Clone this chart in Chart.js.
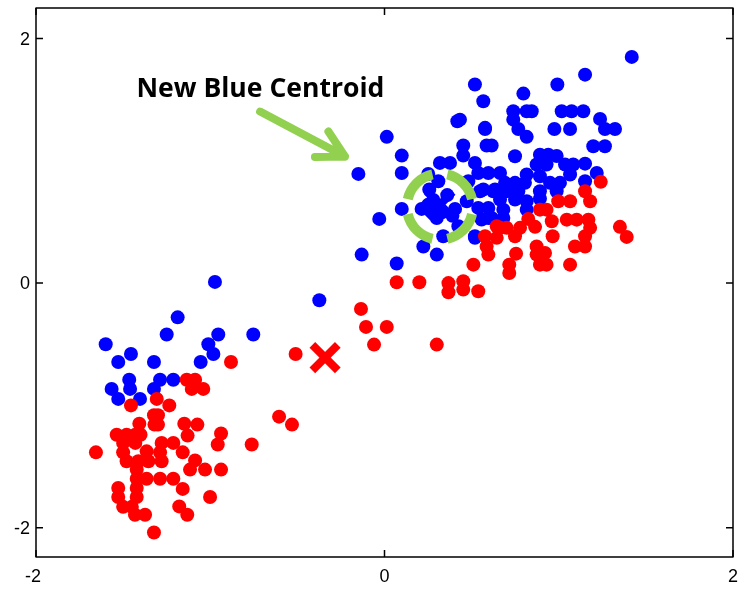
<!DOCTYPE html>
<html>
<head>
<meta charset="utf-8">
<script src="https://cdn.jsdelivr.net/npm/chart.js@4.4.0/dist/chart.umd.min.js"></script>
<style>
  body { margin: 0; background: #fff; }
  #wrap { width: 754px; height: 589px; }
</style>
</head>
<body>
<div id="wrap"><canvas id="chart-scatter" width="754" height="589"></canvas></div>
<script>
// Puntos azules (x, y)
const bluePoints = [
    [-0.973, 0.01], [-1.187, -0.28], [-1.25, -0.42], [-0.954, -0.42], [-0.753, -0.42],
    [-1.60, -0.50], [-1.455, -0.58], [-1.011, -0.50], [-0.982, -0.58], [-1.528, -0.645],
    [-1.323, -0.645], [-1.055, -0.645], [-1.465, -0.79], [-1.288, -0.79], [-1.212, -0.79],
    [-1.566, -0.865], [-1.46, -0.865], [-1.323, -0.865], [-1.528, -0.947], [-1.403, -0.947],
    [-0.374, -0.14],
    [0.418, 1.324], [0.577, 1.27], [0.013, 1.196], [0.452, 1.125], [0.586, 1.125], [0.615, 1.125],
    [0.099, 1.043], [0.452, 1.043], [0.318, 0.983], [0.376, 0.983], [0.519, 0.983], [-0.15, 0.893],
    [0.099, 0.90], [0.251, 0.893], [0.538, 0.90], [0.596, 0.90], [0.309, 0.833], [0.481, 0.833],
    [0.567, 0.765], [0.634, 0.765], [0.257, 0.765], [0.213, 0.607], [0.099, 0.607], [0.30, 0.533],
    [0.405, 0.607], [0.472, 0.669], [0.538, 0.615], [0.596, 0.615], [0.557, 0.52], [0.615, 0.533],
    [0.424, 0.465], [-0.03, 0.525], [0.337, 0.383], [0.223, 0.30], [0.30, 0.233], [0.519, 0.383],
    [-0.131, 0.233], [0.07, 0.16], [0.28, 0.68], [0.36, 0.72], [0.33, 0.58], [0.25, 0.64], [0.39, 0.55],
    [1.419, 1.85], [1.151, 1.705], [0.992, 1.624], [0.519, 1.624], [0.797, 1.55], [0.567, 1.487],
    [0.739, 1.405], [0.816, 1.405], [0.845, 1.405], [1.017, 1.405], [1.074, 1.405], [1.141, 1.405],
    [0.433, 1.337], [0.739, 1.337], [1.237, 1.343], [0.768, 1.261], [0.816, 1.196], [0.577, 1.261],
    [0.975, 1.261], [1.065, 1.261], [1.265, 1.261], [1.323, 1.261], [1.198, 1.119], [1.265, 1.119],
    [0.749, 1.037], [0.892, 1.05], [0.94, 1.05], [0.988, 1.04],
    [0.663, 0.90], [0.873, 0.97], [0.93, 0.97], [1.036, 0.97], [1.083, 0.97], [1.151, 0.977],
    [1.218, 0.90], [0.816, 0.888], [0.892, 0.874], [0.95, 0.82], [1.007, 0.82], [1.065, 0.888],
    [1.151, 0.833], [0.692, 0.82], [0.749, 0.82], [0.806, 0.82], [0.548, 0.751], [0.624, 0.751],
    [0.701, 0.751], [0.768, 0.751], [0.892, 0.751], [0.988, 0.751], [0.663, 0.683], [0.749, 0.683],
    [0.816, 0.669], [0.892, 0.69], [0.682, 0.601], [0.816, 0.601], [0.596, 0.533], [0.682, 0.533],
    [0.519, 0.37]
];

// Puntos rojos (x, y)
const redPoints = [
    [0.51, 0.151], [0.452, 0.015], [0.452, -0.053], [0.538, -0.067], [0.716, 0.151], [0.716, 0.083],
    [0.755, 0.241], [0.873, 0.30], [0.873, 0.233], [0.921, 0.247], [0.892, 0.151], [0.93, 0.151],
    [1.065, 0.151], [0.577, 0.383], [0.586, 0.30], [0.596, 0.233], [0.644, 0.37], [0.663, 0.452],
    [0.701, 0.452], [0.749, 0.383], [0.778, 0.452], [0.825, 0.525], [0.864, 0.46], [0.892, 0.601],
    [0.93, 0.601], [0.96, 0.506], [0.965, 0.383], [0.997, 0.669], [1.065, 0.669], [1.046, 0.519],
    [1.103, 0.519], [1.17, 0.519], [1.18, 0.452], [1.151, 0.383], [1.093, 0.30], [1.151, 0.30],
    [1.151, 0.751], [1.18, 0.669], [1.241, 0.828], [1.351, 0.46], [1.39, 0.378], [0.644, 0.465],
    [0.07, 0.007], [0.20, 0.007], [0.367, 0.0], [0.367, -0.075], [-0.135, -0.211], [-0.106, -0.358],
    [0.013, -0.358], [-0.06, -0.503], [0.30, -0.503], [-0.51, -0.58], [-0.605, -1.092], [-0.531, -1.157],
    [-0.881, -0.645],
    [-1.135, -0.79], [-1.087, -0.79], [-1.106, -0.865], [-1.04, -0.865], [-1.455, -1.0], [-1.307, -0.947],
    [-1.235, -1.0], [-1.323, -1.08], [-1.30, -1.08], [-1.407, -1.15], [-1.32, -1.157], [-1.30, -1.157],
    [-1.149, -1.15], [-1.074, -1.157], [-1.537, -1.24], [-1.48, -1.24], [-1.43, -1.24], [-1.40, -1.24],
    [-1.13, -1.247], [-0.938, -1.23], [-1.656, -1.384], [-1.50, -1.307], [-1.43, -1.307], [-1.279, -1.307],
    [-1.212, -1.307], [-0.957, -1.32], [-0.762, -1.32], [-1.50, -1.384], [-1.365, -1.376], [-1.288, -1.384],
    [-1.158, -1.384], [-1.48, -1.457], [-1.413, -1.457], [-1.355, -1.457], [-1.279, -1.457], [-1.087, -1.45],
    [-1.116, -1.525], [-1.03, -1.525], [-0.938, -1.525], [-1.422, -1.525], [-1.422, -1.60], [-1.365, -1.60],
    [-1.288, -1.60], [-1.212, -1.60], [-1.528, -1.675], [-1.422, -1.675], [-1.158, -1.683], [-1.528, -1.749],
    [-1.422, -1.749], [-1.001, -1.749], [-1.50, -1.83], [-1.45, -1.83], [-1.178, -1.826], [-1.432, -1.894],
    [-1.374, -1.894], [-1.132, -1.894], [-1.323, -2.04]
];

// Centroides
const blueCentroid = [[0.318, 0.642]];
const redCentroid = [[-0.341, -0.609]];

// Ejes
const xTicks = [-2, 0, 2];
const yTicks = [-2, 0, 2];

// Anotación
const noteText = 'New Blue Centroid';
const noteAt = [-0.712, 1.526];
const arrowFrom = [-0.714, 1.403];
const arrowTo = [-0.227, 1.035];

const toXY = arr => arr.map(p => ({ x: p[0], y: p[1] }));

const GREEN = '#92D050';
const TICK_FONT = '18px "Liberation Sans", Arial';

// Marco, marcas de eje, etiquetas, anillo y flecha
const decorPlugin = {
    id: 'decor',
    afterDatasetsDraw(chart) {
        const ctx = chart.ctx;
        const xs = chart.scales.x;
        const ys = chart.scales.y;
        const a = chart.chartArea;

        // anillo punteado alrededor del centroide azul
        const cx = xs.getPixelForValue(blueCentroid[0][0]);
        const cy = ys.getPixelForValue(blueCentroid[0][1]) + 2;
        ctx.save();
        ctx.strokeStyle = GREEN;
        ctx.lineWidth = 10;
        for (let i = 0; i < 4; i++) {
            const start = (i * 90 + 13) * Math.PI / 180;
            const end = (i * 90 + 77) * Math.PI / 180;
            ctx.beginPath();
            ctx.arc(cx, cy, 33, start, end);
            ctx.stroke();
        }

        // flecha
        const x1 = xs.getPixelForValue(arrowFrom[0]), y1 = ys.getPixelForValue(arrowFrom[1]);
        const x2 = xs.getPixelForValue(arrowTo[0]), y2 = ys.getPixelForValue(arrowTo[1]);
        const ang = Math.atan2(y2 - y1, x2 - x1);
        const head = 30;
        ctx.lineWidth = 8;
        ctx.lineCap = 'round';
        ctx.lineJoin = 'round';
        ctx.beginPath();
        ctx.moveTo(x1, y1);
        ctx.lineTo(x2, y2);
        ctx.moveTo(x2 - head * Math.cos(ang - 0.5), y2 - head * Math.sin(ang - 0.5));
        ctx.lineTo(x2, y2);
        ctx.lineTo(x2 - head * Math.cos(ang + 0.5), y2 - head * Math.sin(ang + 0.5));
        ctx.stroke();

        // texto
        ctx.fillStyle = '#000';
        ctx.font = 'bold 24px "Open Sans"';
        const w = ctx.measureText(noteText).width;
        const size = 24 * 248 / w;
        ctx.font = 'bold ' + size.toFixed(2) + 'px "Open Sans"';
        ctx.textAlign = 'center';
        ctx.textBaseline = 'alphabetic';
        ctx.fillText(noteText, xs.getPixelForValue(noteAt[0]), ys.getPixelForValue(noteAt[1]));

        // marco
        ctx.strokeStyle = '#000';
        ctx.lineWidth = 1.5;
        ctx.lineCap = 'butt';
        ctx.strokeRect(a.left, a.top, a.right - a.left, a.bottom - a.top);

        // marcas hacia dentro
        const tl = 7;
        ctx.beginPath();
        xTicks.forEach(v => {
            const px = xs.getPixelForValue(v);
            ctx.moveTo(px, a.bottom); ctx.lineTo(px, a.bottom - tl);
            ctx.moveTo(px, a.top); ctx.lineTo(px, a.top + tl);
        });
        yTicks.forEach(v => {
            const py = ys.getPixelForValue(v);
            ctx.moveTo(a.left, py); ctx.lineTo(a.left + tl, py);
            ctx.moveTo(a.right, py); ctx.lineTo(a.right - tl, py);
        });
        ctx.stroke();

        // etiquetas de los ejes
        ctx.font = TICK_FONT;
        ctx.textBaseline = 'middle';
        ctx.textAlign = 'center';
        xTicks.forEach(v => {
            ctx.fillText(String(v), xs.getPixelForValue(v) - (v < 0 ? 3 : 0), a.bottom + 20);
        });
        ctx.textAlign = 'right';
        yTicks.forEach(v => {
            ctx.fillText(String(v), a.left - 6, ys.getPixelForValue(v) + 1);
        });
        ctx.restore();
    }
};

const ctxScatter = document.getElementById('chart-scatter').getContext('2d');
new Chart(ctxScatter, {
    type: 'scatter',
    data: {
        datasets: [
            {
                label: 'Centroide rojo',
                data: toXY(redCentroid),
                pointStyle: 'crossRot',
                pointRadius: 18,
                borderWidth: 8,
                borderColor: '#FF0000',
                backgroundColor: '#FF0000'
            },
            {
                label: 'Centroide azul',
                data: toXY(blueCentroid),
                pointStyle: 'crossRot',
                pointRadius: 18,
                borderWidth: 8,
                borderColor: '#0000FF',
                backgroundColor: '#0000FF'
            },
            {
                label: 'Rojo',
                data: toXY(redPoints),
                pointRadius: 7,
                borderWidth: 0,
                backgroundColor: '#FF0000'
            },
            {
                label: 'Azul',
                data: toXY(bluePoints),
                pointRadius: 7,
                borderWidth: 0,
                backgroundColor: '#0000FF'
            }
        ]
    },
    options: {
        responsive: false,
        animation: false,
        layout: { autoPadding: false, padding: { left: 0, top: 8, right: 21, bottom: 0 } },
        plugins: {
            legend: { display: false },
            tooltip: { enabled: false }
        },
        scales: {
            x: {
                type: 'linear',
                min: -2,
                max: 2,
                afterBuildTicks: s => { s.ticks = xTicks.map(v => ({ value: v })); },
                afterFit: s => { s.height = 32; },
                grid: { display: false, drawTicks: false },
                border: { display: false },
                ticks: { display: false }
            },
            y: {
                type: 'linear',
                min: -2.24,
                max: 2.25,
                afterBuildTicks: s => { s.ticks = yTicks.map(v => ({ value: v })); },
                afterFit: s => { s.width = 36; },
                grid: { display: false, drawTicks: false },
                border: { display: false },
                ticks: { display: false }
            }
        }
    },
    plugins: [decorPlugin]
});
</script>
</body>
</html>
